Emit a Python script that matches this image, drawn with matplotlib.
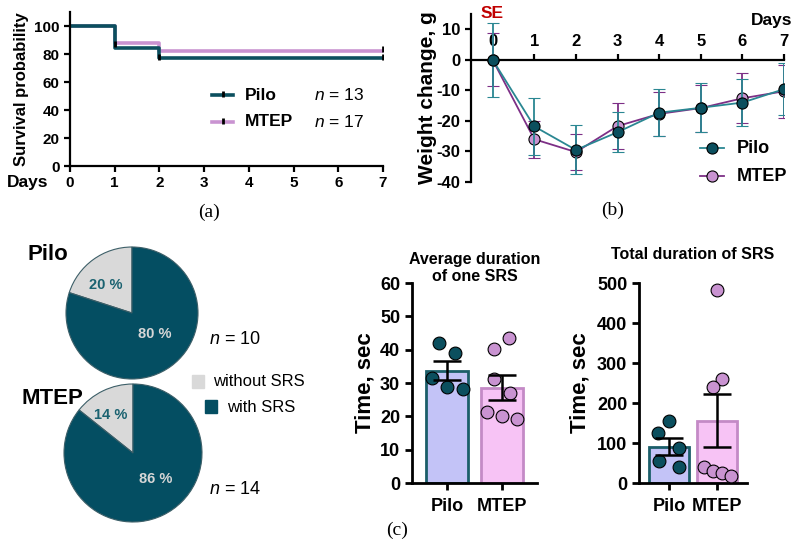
import matplotlib
matplotlib.use('Agg')
import matplotlib.pyplot as plt
from matplotlib.lines import Line2D
from matplotlib.patches import Rectangle

plt.rcParams['font.family'] = ['Liberation Sans', 'DejaVu Sans']
plt.rcParams['font.weight'] = 'bold'
plt.rcParams['axes.labelweight'] = 'bold'
plt.rcParams['axes.titleweight'] = 'bold'
plt.rcParams['axes.unicode_minus'] = False
plt.rcParams['mathtext.fontset'] = 'custom'
plt.rcParams['mathtext.it'] = 'Liberation Sans:style=italic:weight=normal'
plt.rcParams['mathtext.rm'] = 'Liberation Sans:weight=normal'

# ---------------- data ----------------
surv_days = [0, 1, 2, 7]
surv_pilo = [100, 84.6, 76.9, 76.9]
surv_mtep = [100, 88.2, 82.4, 82.4]
n_pilo_surv = 13
n_mtep_surv = 17

wdays = [0, 1, 2, 3, 4, 5, 6, 7]
w_pilo = [0, -21.8, -29.5, -23.7, -17.3, -15.7, -14.0, -9.6]
w_pilo_err = [12.1, 9.2, 8.0, 6.5, 7.8, 8.0, 7.7, 8.6]
w_mtep = [0, -26.0, -30.2, -21.7, -17.7, -15.8, -12.6, -10.3]
w_mtep_err = [8.7, 6.1, 6.0, 7.6, 7.3, 7.7, 8.2, 8.6]

pie_labels = ['without SRS', 'with SRS']
pie_pilo = [2, 8]
pie_mtep = [2, 12]

groups = ['Pilo', 'MTEP']
avg_mean = [33.7, 28.6]
avg_sem = [2.9, 3.8]
avg_pilo_pts = [42.1, 38.9, 31.6, 28.9, 28.1]
avg_mtep_pts = [43.4, 40.1, 31.1, 27.1, 21.4, 20.1, 19.1]

tot_mean = [91, 156]
tot_sem = [21, 67]
tot_pilo_pts = [155, 126, 87, 56, 41]
tot_mtep_pts = [482, 260, 240, 41, 31, 25, 17]

# horizontal scatter offsets of the dots (layout only)
avg_pilo_dx = [-0.15, 0.15, -0.27, 0.0, 0.29]
avg_mtep_dx = [0.13, -0.15, -0.15, 0.15, -0.27, 0.0, 0.27]
tot_pilo_dx = [0.0, -0.23, 0.21, -0.21, 0.21]
tot_mtep_dx = [0.0, 0.1, -0.08, -0.27, -0.08, 0.1, 0.29]

# ---------------- styles ----------------
TEAL = '#0b4f5e'
TEAL_L = '#2a8792'
PURP_L = '#c993d1'
PURP_D = '#7d2f86'
PIE_TEAL = '#044e62'
PIE_GRAY = '#d9d9d9'
BAR_P = '#c3c3f7'
BAR_M = '#f7c3f5'
BAR_PE = '#1b5e69'
BAR_ME = '#c48ac6'

W, H = 797, 547
fig = plt.figure(figsize=(W / 100, H / 100), dpi=100)


def rect(x0, y0, x1, y1):
    return [x0 / W, 1 - y1 / H, (x1 - x0) / W, (y1 - y0) / H]


def fx(px):
    return px / W


def fy(py):
    return 1 - py / H


def style_axes(ax, lw=1.6):
    for s in ['top', 'right']:
        ax.spines[s].set_visible(False)
    for s in ['left', 'bottom']:
        ax.spines[s].set_linewidth(lw)


# ---------------- (a) survival ----------------
axa = fig.add_axes(rect(70, 12, 383, 166))
axa.step(surv_days, surv_mtep, where='post', color=PURP_L, lw=2.6)
axa.step(surv_days, surv_pilo, where='post', color=TEAL, lw=2.6)
axa.plot([1.0, 7], [surv_mtep[1] - 1, surv_mtep[-1] + 1.5], ls='none', marker='|', color='k', ms=5, mew=2)
axa.plot([2.0, 7], [surv_pilo[2] + 1, surv_pilo[-1] + 1], ls='none', marker='|', color='k', ms=5, mew=2)
axa.set_xlim(0, 7)
axa.set_ylim(0, 110)
axa.set_xticks(range(0, 8))
axa.set_yticks(range(0, 101, 20))
style_axes(axa)
axa.tick_params(width=1.6, length=4, labelsize=11)
axa.set_ylabel('Survival probability', fontsize=12)
axa.yaxis.set_label_coords(-0.132, 0.5)
fig.text(fx(28), fy(182), 'Days', ha='center', va='center', fontsize=12.5)
fig.text(fx(209), fy(212), '(a)', ha='center', va='center', fontsize=14,
         family='Liberation Serif', weight='normal')

for yy, col, name, n in [(95, TEAL, 'Pilo', n_pilo_surv), (122, PURP_L, 'MTEP', n_mtep_surv)]:
    fig.add_artist(Line2D([fx(212), fx(233)], [fy(yy), fy(yy)], color=col, lw=2.6,
                          transform=fig.transFigure))
    fig.add_artist(Line2D([fx(222.5)], [fy(yy - 1)], color='k', marker='|', ms=5, mew=2,
                          transform=fig.transFigure))
    fig.text(fx(245), fy(yy), name, ha='left', va='center', fontsize=12.5)
    fig.text(fx(314), fy(yy), '$n$ = %d' % n, ha='left', va='center', fontsize=12.5, weight='normal')

# ---------------- (b) weight ----------------
axb = fig.add_axes(rect(471, 14, 784, 182))
axb.errorbar(wdays, w_mtep, yerr=w_mtep_err, color=PURP_D, ecolor=PURP_D, lw=1.3, elinewidth=1.3,
             capsize=4, capthick=1.3, marker='o', ms=8, mfc=PURP_L, mec='k', mew=0.8, zorder=3)
axb.errorbar(wdays, w_pilo, yerr=w_pilo_err, color=TEAL_L, ecolor=TEAL_L, lw=1.3, elinewidth=1.3,
             capsize=4, capthick=1.3, marker='o', ms=8, mfc=TEAL, mec='k', mew=0.8, zorder=4)
axb.set_xlim(-0.52, 7)
axb.set_ylim(-40, 15)
axb.spines['right'].set_visible(False)
axb.spines['bottom'].set_visible(False)
axb.spines['top'].set_position(('data', 0))
axb.spines['top'].set_linewidth(1.6)
axb.spines['left'].set_linewidth(1.6)
axb.xaxis.set_ticks_position('top')
axb.xaxis.set_label_position('top')
axb.set_xticks(wdays)
axb.set_yticks(range(-40, 11, 10))
axb.tick_params(width=1.6, length=4, labelsize=12)
axb.set_ylabel('Weight change, g', fontsize=15)
axb.yaxis.set_label_coords(-0.11, 0.5)
fig.text(fx(492), fy(13), 'SE', ha='center', va='center', fontsize=12.5, color='#c00000')
fig.text(fx(772), fy(20), 'Days', ha='center', va='center', fontsize=12.5)
fig.text(fx(613), fy(210), '(b)', ha='center', va='center', fontsize=14,
         family='Liberation Serif', weight='normal')

for yy, lc, mc, name in [(148, TEAL_L, TEAL, 'Pilo'), (176, PURP_D, PURP_L, 'MTEP')]:
    fig.add_artist(Line2D([fx(700), fx(724)], [fy(yy), fy(yy)], color=lc, lw=1.3,
                          transform=fig.transFigure))
    fig.add_artist(Line2D([fx(712)], [fy(yy)], marker='o', ms=8, mfc=mc, mec='k', mew=0.8,
                          transform=fig.transFigure))
    fig.text(fx(737), fy(yy), name, ha='left', va='center', fontsize=13)

# ---------------- (c) pies ----------------
def draw_pie(cx, cy, r, counts):
    ax = fig.add_axes(rect(cx - r, cy - r, cx + r, cy + r))
    wedges, texts, autotexts = ax.pie(counts, colors=[PIE_GRAY, PIE_TEAL], startangle=90,
                                      counterclock=True, autopct=lambda p: '%.0f %%' % p,
                                      pctdistance=0.6,
                                      wedgeprops=dict(edgecolor='#3d5f68', linewidth=0.8))
    ax.set_xlim(-1, 1)
    ax.set_ylim(-1, 1)
    autotexts[0].set_color('#1a6270')
    autotexts[1].set_color('#d6d6d6')
    for t in autotexts:
        t.set_fontsize(10.5)
    return ax, autotexts


axp1, at1 = draw_pie(132, 313, 66, pie_pilo)
at1[0].set_position((-0.4, 0.42))
at1[1].set_position((0.35, -0.32))
axp2, at2 = draw_pie(133, 453, 69, pie_mtep)
at2[0].set_position((-0.33, 0.55))
at2[1].set_position((0.33, -0.38))

fig.text(fx(48), fy(255), 'Pilo', ha='center', va='center', fontsize=16)
fig.text(fx(52), fy(398), 'MTEP', ha='center', va='center', fontsize=16)
fig.text(fx(209), fy(340), '$n$ = %d' % sum(pie_pilo), ha='left', va='center', fontsize=13, weight='normal')
fig.text(fx(209), fy(490), '$n$ = %d' % sum(pie_mtep), ha='left', va='center', fontsize=13, weight='normal')

fig.add_artist(Rectangle((fx(192), fy(388)), 12 / W, 13 / H, color=PIE_GRAY, transform=fig.transFigure))
fig.text(fx(213), fy(382), pie_labels[0], ha='left', va='center', fontsize=12, weight='normal')
fig.add_artist(Rectangle((fx(205), fy(413)), 12 / W, 13 / H, color=PIE_TEAL, transform=fig.transFigure))
fig.text(fx(227), fy(407), pie_labels[1], ha='left', va='center', fontsize=12, weight='normal')


# ---------------- (c) bars ----------------
def draw_bars(r, xlim, ylim, yticks, means, sems, pts_p, pts_m, dx_p, dx_m, width, title, title_y):
    ax = fig.add_axes(r)
    ax.bar([0, 1], means, width=width, color=[BAR_P, BAR_M], edgecolor=[BAR_PE, BAR_ME],
           linewidth=2, zorder=1)
    ax.scatter([0 + d for d in dx_p], pts_p, s=85, color=TEAL, edgecolor='k', linewidth=0.8, zorder=3)
    ax.scatter([1 + d for d in dx_m], pts_m, s=85, color=PURP_L, edgecolor='k', linewidth=0.8, zorder=3)
    ax.errorbar([0, 1], means, yerr=sems, fmt='none', ecolor='k', elinewidth=1.8,
                capsize=10, capthick=1.8, zorder=4)
    ax.set_xlim(*xlim)
    ax.set_ylim(*ylim)
    ax.set_yticks(yticks)
    ax.set_xticks([0, 1])
    ax.set_xticklabels(groups)
    style_axes(ax, lw=2)
    ax.tick_params(width=2, length=5, labelsize=13)
    ax.tick_params(axis='x', labelsize=13, pad=6)
    ax.set_ylabel('Time, sec', fontsize=16)
    ax.set_title(title, fontsize=11.5, y=title_y, linespacing=1.1)
    return ax


axc1 = draw_bars(rect(412, 283, 537, 483), (-0.64, 1.64), (0, 60), range(0, 61, 10),
                 avg_mean, avg_sem, avg_pilo_pts, avg_mtep_pts, avg_pilo_dx, avg_mtep_dx, 0.78,
                 'Average duration\nof one SRS', 0.97)
axc1.yaxis.set_label_coords(-0.29, 0.5)
axc2 = draw_bars(rect(639, 283, 747, 483), (-0.625, 1.625), (0, 500), range(0, 501, 100),
                 tot_mean, tot_sem, tot_pilo_pts, tot_mtep_pts, tot_pilo_dx, tot_mtep_dx, 0.83,
                 'Total duration of SRS', 1.08)
axc2.yaxis.set_label_coords(-0.45, 0.5)
fig.text(fx(397), fy(530), '(c)', ha='center', va='center', fontsize=14,
         family='Liberation Serif', weight='normal')

fig.savefig('out.png', dpi=100)
